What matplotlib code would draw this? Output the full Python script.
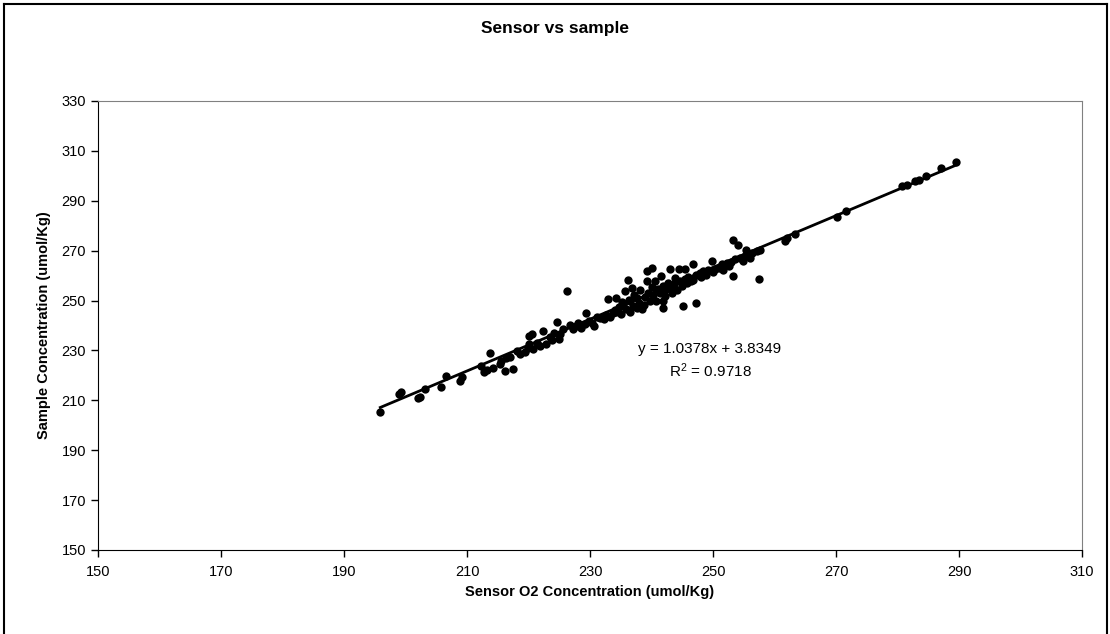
import matplotlib
matplotlib.use("Agg")
import matplotlib.pyplot as plt
from matplotlib.lines import Line2D
import numpy as np

plt.rcParams['font.family'] = ['Liberation Sans', 'DejaVu Sans']

# sensor (x) / sample (y) pairs
sensor = [195.9, 199.0, 199.3, 202.0, 202.4, 203.2, 205.8, 206.6, 208.8, 209.2,
          212.3, 212.8, 213.2, 213.7, 214.2, 215.3, 215.6, 216.2, 216.3, 217.0,
          217.4, 218.1, 218.6, 219.4, 219.9, 220.0, 220.1, 220.5, 220.8, 221.3,
          221.9, 222.4, 222.8, 223.5, 223.8, 224.2, 224.6, 224.9, 225.1, 225.6,
          226.2, 226.7, 227.3, 227.8, 228.1, 228.6, 229.2, 229.4, 229.9, 230.3,
          230.6, 231.1, 231.6, 232.2, 232.6, 233.0, 233.3, 233.7, 234.0, 234.3,
          234.3, 234.7, 235.0, 235.2, 235.4, 235.7, 235.9, 236.2, 236.3, 236.5,
          236.5, 236.8, 237.0, 237.2, 237.6, 237.6, 237.9, 238.2, 238.4, 238.7,
          238.9, 239.2, 239.2, 239.5, 239.8, 240.0, 240.1, 240.3, 240.6, 240.8,
          241.0, 241.4, 241.6, 241.8, 241.9, 241.9, 242.2, 242.4, 242.7, 243.0,
          243.0, 243.3, 243.6, 243.8, 244.1, 244.4, 244.6, 244.9, 245.1, 245.4,
          245.4, 245.7, 246.0, 246.4, 246.8, 246.8, 247.3, 247.3, 247.9, 248.1,
          248.4, 248.8, 249.2, 249.8, 250.0, 250.4, 250.9, 251.4, 251.6, 252.2,
          252.6, 253.0, 253.3, 253.3, 253.6, 254.1, 254.4, 254.9, 255.2, 255.4,
          255.7, 256.0, 256.4, 257.1, 257.4, 257.6, 261.7, 262.0, 263.3, 270.2,
          271.7, 280.7, 281.5, 282.8, 283.5, 284.7, 287.0, 289.5]
sample = [205.3, 212.5, 213.4, 210.8, 211.4, 214.4, 215.2, 219.8, 217.8, 219.2,
          223.6, 221.3, 222.0, 229.0, 223.0, 224.6, 225.8, 221.8, 226.8, 227.5,
          222.6, 229.6, 228.4, 229.2, 230.9, 232.4, 235.8, 236.5, 230.6, 233.0,
          231.6, 237.6, 232.4, 235.2, 234.2, 236.8, 241.6, 234.4, 236.4, 238.6,
          253.9, 240.3, 238.4, 239.6, 241.0, 238.9, 240.8, 245.2, 242.0, 241.0,
          239.6, 243.6, 243.0, 242.6, 244.4, 250.6, 243.6, 245.0, 246.4, 251.0,
          245.6, 247.4, 244.8, 249.6, 248.3, 253.7, 246.6, 258.2, 250.4, 249.7,
          245.6, 255.2, 247.8, 252.4, 251.0, 247.0, 249.0, 254.2, 246.6, 248.3,
          251.4, 261.8, 257.7, 253.2, 250.0, 262.9, 255.4, 252.3, 257.7, 249.8,
          254.6, 253.0, 259.8, 256.0, 249.7, 247.0, 252.0, 254.8, 257.0, 262.5,
          255.0, 253.0, 256.6, 259.1, 254.4, 262.5, 257.7, 256.0, 247.7, 262.5,
          258.6, 257.1, 259.6, 257.8, 264.5, 258.4, 249.0, 260.2, 261.1, 259.4,
          261.8, 260.2, 262.4, 265.8, 261.6, 262.8, 263.1, 264.5, 262.4, 265.1,
          263.8, 265.6, 274.2, 259.8, 266.8, 272.2, 267.2, 265.8, 268.0, 270.1,
          268.5, 267.0, 269.2, 269.9, 258.8, 270.4, 273.9, 275.2, 276.8, 283.6,
          286.0, 296.1, 296.4, 297.8, 298.3, 300.0, 303.0, 305.6]

slope = 1.0378
intercept = 3.8349
r2 = 0.9718
x_ticks = [150, 170, 190, 210, 230, 250, 270, 290, 310]
y_ticks = [150, 170, 190, 210, 230, 250, 270, 290, 310, 330]

fig = plt.figure(figsize=(11.1, 6.34), dpi=100)
ax = fig.add_axes([0.0883, 0.1325, 0.8865, 0.7082])

ax.scatter(sensor, sample, s=36, color='black', zorder=3, linewidths=0)
xl = np.array([min(sensor), max(sensor)])
ax.plot(xl, slope * xl + intercept, color='black', lw=2, zorder=2)

ax.set_xlim(150, 310)
ax.set_ylim(150, 330)
ax.set_xticks(x_ticks)
ax.set_yticks(y_ticks)
ax.tick_params(direction='out', length=5, width=1, labelsize=10.5, color='black')
ax.tick_params(axis='x', pad=6)
for s in ['top', 'right']:
    ax.spines[s].set_color('#808080')
for s in ['left', 'bottom']:
    ax.spines[s].set_color('black')

ax.set_xlabel('Sensor O2 Concentration (umol/Kg)', fontsize=10.5, fontweight='bold', labelpad=4)
ax.set_ylabel('Sample Concentration (umol/Kg)', fontsize=10.5, fontweight='bold', labelpad=8)
fig.text(0.5, 0.955, 'Sensor vs sample', ha='center', va='center', fontsize=12.5, fontweight='bold')

ax.text(249.5, 230.4, 'y = 1.0378x + 3.8349', ha='center', va='center', fontsize=11)
ax.text(249.5, 221.8, '$\\mathregular{R^2}$ = %.4f' % r2, ha='center', va='center', fontsize=11)

# outer chart border
for xs, ys in [([0.004, 0.004], [0.0, 0.994]), ([0.004, 0.997], [0.994, 0.994]), ([0.997, 0.997], [0.0, 0.994])]:
    fig.add_artist(Line2D(xs, ys, color='black', lw=1.5, transform=fig.transFigure))

fig.savefig('out.png', dpi=100)
